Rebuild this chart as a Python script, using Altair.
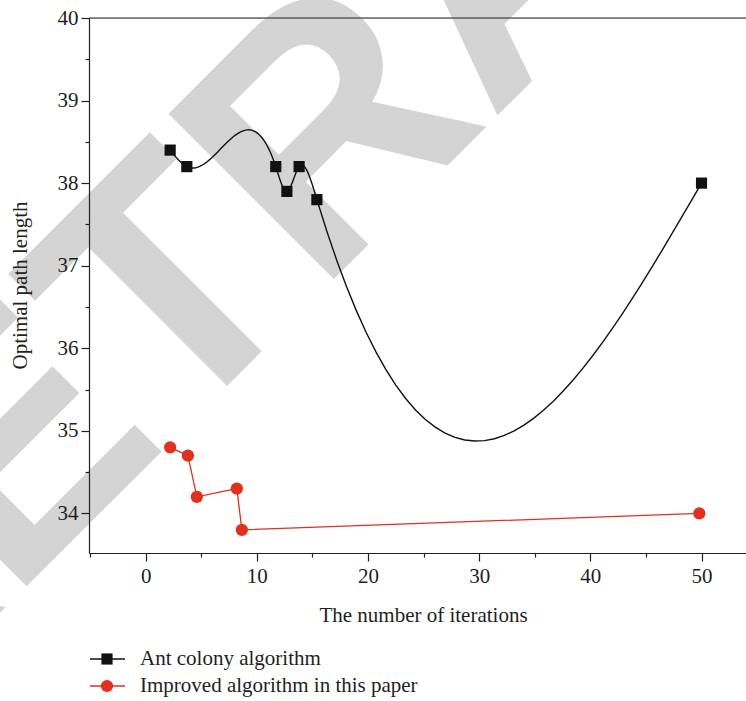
import altair as alt
import numpy as np
import pandas as pd

# ---- data ----
ant_x = [2.2, 3.7, 11.7, 12.7, 13.8, 15.4, 50.0]
ant_y = [38.4, 38.2, 38.2, 37.9, 38.2, 37.8, 38.0]
imp_x = [2.2, 3.8, 4.6, 8.2, 8.65, 49.8]
imp_y = [34.8, 34.7, 34.2, 34.3, 33.8, 34.0]
series_names = ["Ant colony algorithm", "Improved algorithm in this paper"]
x_major = [0, 10, 20, 30, 40, 50]
x_minor = [-5, 5, 15, 25, 35, 45]
y_major = [34, 35, 36, 37, 38, 39, 40]
y_minor = [34.5, 35.5, 36.5, 37.5, 38.5, 39.5]


def natural_spline_path(xp, yp, per_seg=40):
    """Spline connection style (natural cubic spline through the data points)."""
    xp = np.asarray(xp, float)
    yp = np.asarray(yp, float)
    n = len(xp)
    h = np.diff(xp)
    A = np.zeros((n, n))
    r = np.zeros(n)
    A[0, 0] = A[-1, -1] = 1.0
    for i in range(1, n - 1):
        A[i, i - 1] = h[i - 1]
        A[i, i] = 2 * (h[i - 1] + h[i])
        A[i, i + 1] = h[i]
        r[i] = 6 * ((yp[i + 1] - yp[i]) / h[i] - (yp[i] - yp[i - 1]) / h[i - 1])
    M = np.linalg.solve(A, r)
    xs_out, ys_out = [], []
    for i in range(n - 1):
        t = np.linspace(xp[i], xp[i + 1], per_seg, endpoint=(i == n - 2))
        a = xp[i + 1] - t
        b = t - xp[i]
        y = (M[i] * a ** 3 + M[i + 1] * b ** 3) / (6 * h[i]) \
            + (yp[i] / h[i] - M[i] * h[i] / 6) * a + (yp[i + 1] / h[i] - M[i + 1] * h[i] / 6) * b
        xs_out.extend(t.tolist())
        ys_out.extend(y.tolist())
    return pd.DataFrame({"x": xs_out, "y": ys_out, "o": range(len(xs_out))})


ant = pd.DataFrame({"x": ant_x, "y": ant_y, "s": series_names[0]})
ant_curve = natural_spline_path(ant_x, ant_y)
imp = pd.DataFrame({"x": imp_x, "y": imp_y, "s": series_names[1]})

W, H = 657, 535
ink = "#231f20"
red = "#e0301e"
serif = "Liberation Serif"

xs = alt.Scale(domain=[-5.1, 54], nice=False, zero=False)
ys = alt.Scale(domain=[33.52, 40], nice=False, zero=False)

base_axis = dict(labelFont=serif, labelFontSize=21, labelColor=ink,
                 domainColor=ink, tickColor=ink, grid=False, zindex=1,
                 domainWidth=1.2, tickWidth=1.2)
title_style = dict(titleFont=serif, titleFontSize=21, titleColor=ink, titleFontWeight="normal")

x_major_axis = alt.Axis(orient="bottom", values=x_major, tickSize=8, labelPadding=4,
                        title="The number of iterations", titleX=334, titleY=62,
                        titleBaseline="middle", **base_axis, **title_style)
x_minor_axis = alt.Axis(orient="bottom", values=x_minor, tickSize=4, labels=False,
                        domain=False, title=None, **base_axis)
y_major_axis = alt.Axis(orient="left", values=y_major, tickSize=8, labelPadding=3,
                        title="Optimal path length", titleX=-69, titleY=267,
                        titleAngle=270, titleAlign="center", titleBaseline="middle",
                        **base_axis, **title_style)
y_minor_axis = alt.Axis(orient="left", values=y_minor, tickSize=4, labels=False,
                        domain=False, title=None, **base_axis)

# watermark
wm = alt.Chart(pd.DataFrame({"t": ["RETRACTED"]})).mark_text(
    font="Liberation Sans", fontWeight="bold", fontSize=340, color="#d4d4d4",
    angle=315, align="left", baseline="alphabetic"
).encode(text="t:N", x=alt.value(-252), y=alt.value(758))

ant_line = alt.Chart(ant_curve).mark_line(color="#111111", strokeWidth=1.4).encode(
    x=alt.X("x:Q", scale=xs, axis=x_major_axis),
    y=alt.Y("y:Q", scale=ys, axis=y_major_axis),
    order="o:Q",
)
ant_pts = alt.Chart(ant).mark_point(shape="square", filled=True, size=125, color="#111111", opacity=1).encode(
    x=alt.X("x:Q", scale=xs, axis=None), y=alt.Y("y:Q", scale=ys, axis=None))

imp_line = alt.Chart(imp).mark_line(color=red, strokeWidth=1.3).encode(
    x=alt.X("x:Q", scale=xs, axis=x_minor_axis),
    y=alt.Y("y:Q", scale=ys, axis=y_minor_axis),
)
imp_pts = alt.Chart(imp).mark_point(shape="circle", filled=True, size=150, color=red, opacity=1).encode(
    x=alt.X("x:Q", scale=xs, axis=None), y=alt.Y("y:Q", scale=ys, axis=None))

top_rule = alt.Chart(pd.DataFrame({"a": [0]})).mark_rule(color=ink, strokeWidth=1.2).encode(
    x=alt.value(0), x2=alt.value(W), y=alt.value(0))

# legend (manual, below the plot)
leg_rows = []
for i, (nm, col, shp) in enumerate([(series_names[0], "#111111", "square"), (series_names[1], red, "circle")]):
    yy = 641 + i * 27
    d = pd.DataFrame({"name": [nm]})
    leg_rows.append(alt.Chart(d).mark_rule(color=col, strokeWidth=1.4).encode(
        x=alt.value(1), x2=alt.value(36), y=alt.value(yy)))
    leg_rows.append(alt.Chart(d).mark_point(shape=shp, filled=True, opacity=1, color=col,
                                            size=125 if shp == "square" else 150).encode(
        x=alt.value(18), y=alt.value(yy)))
    leg_rows.append(alt.Chart(d).mark_text(font=serif, fontSize=21, color=ink, align="left",
                                           baseline="middle").encode(
        text="name:N", x=alt.value(51), y=alt.value(yy)))

chart = alt.layer(wm, top_rule, imp_line, ant_line, imp_pts, ant_pts, *leg_rows).resolve_axis(
    x="independent", y="independent"
).properties(
    width=W, height=H,
    autosize=alt.AutoSizeParams(type="none"),
    padding={"left": 89, "top": 18, "right": 0, "bottom": 148},
).configure_view(stroke=None).configure(background="white")

chart.save("out.html", embed_options={"renderer": "svg", "actions": False})
